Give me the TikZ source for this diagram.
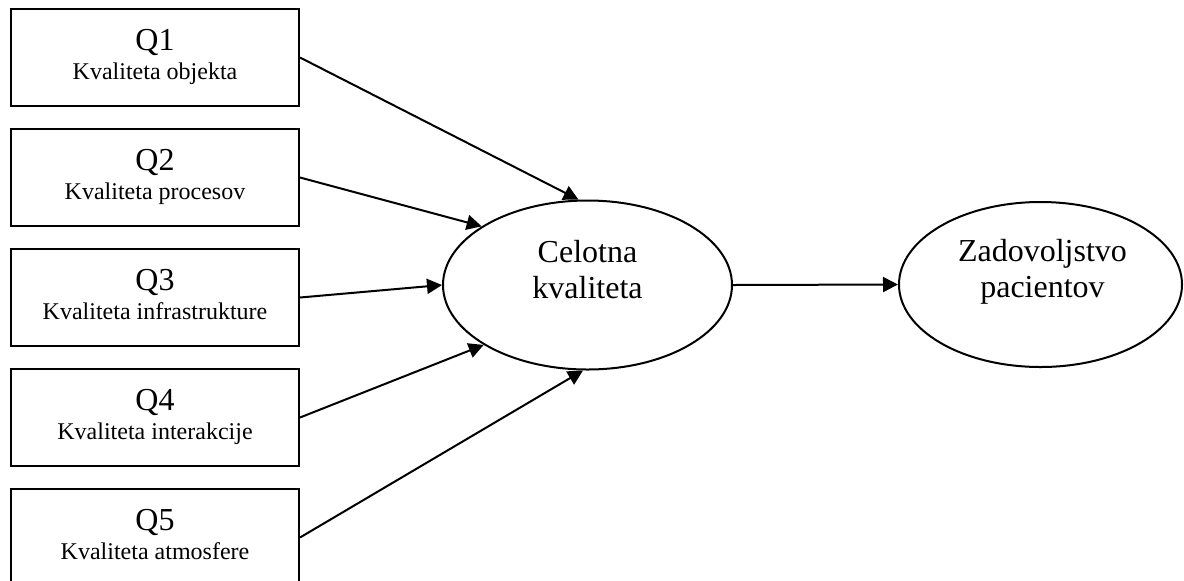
\documentclass[tikz,border=0pt]{standalone}
\usepackage{fontspec}
\setmainfont{Liberation Serif}
\usetikzlibrary{arrows.meta,shapes.geometric,calc}

\begin{document}
\begin{tikzpicture}[x=0.5pt,y=-0.5pt,
  every path/.style={line width=1pt},
  qbox/.style={draw, rectangle, minimum width=144pt, minimum height=48.5pt, inner sep=0pt},
  qnum/.style={anchor=base, inner sep=0pt, font=\fontsize{16}{16}\selectfont},
  qname/.style={anchor=base, inner sep=0pt, font=\fontsize{12}{14}\selectfont},
  oval/.style={draw, ellipse, inner sep=0pt},
  ovaltext/.style={anchor=base, inner sep=0pt, align=center, font=\fontsize{16}{18}\selectfont},
  link/.style={-{Triangle[length=7.5pt,width=7.5pt]}}
]
\useasboundingbox (0,0) rectangle (1184,580);

% quality dimension boxes
\foreach \i/\y/\t in {1/57.5/Kvaliteta objekta,
                      2/177.5/Kvaliteta procesov,
                      3/297.5/Kvaliteta infrastrukture,
                      4/417.5/Kvaliteta interakcije,
                      5/537.5/Kvaliteta atmosfere}{
  \node[qbox] (q\i) at (155,\y) {};
  \node[qnum]  (q\i n) at ($(q\i.center)+(0,-7.5)$) {Q\i};
  \node[qname] (q\i t) at ($(q\i.center)+(0,21.5)$) {\t};
}

% overall quality and patient satisfaction (base anchor = last text line)
\node[oval, minimum width=144.5pt, minimum height=84.5pt] (cel) at (587.5,285) {};
\node[ovaltext] (celt) at ($(cel.center)+(0,13)$) {Celotna\\kvaliteta};
\node[oval, minimum width=141.5pt, minimum height=82.5pt] (zad) at (1040.5,284.5) {};
\node[ovaltext] (zadt) at ($(zad.center)+(2,13)$) {Zadovoljstvo\\pacientov};

% connectors
\draw[link] (q1.east) -- (cel.96);
\draw[link] (q2.east) -- (cel.151);
\draw[link] (q3.east) -- (cel.180);
\draw[link] (q4.east) -- (cel.210);
\draw[link] (q5.east) -- (cel.267);
\draw[link] (cel.east) -- (zad.west);
\end{tikzpicture}
\end{document}
